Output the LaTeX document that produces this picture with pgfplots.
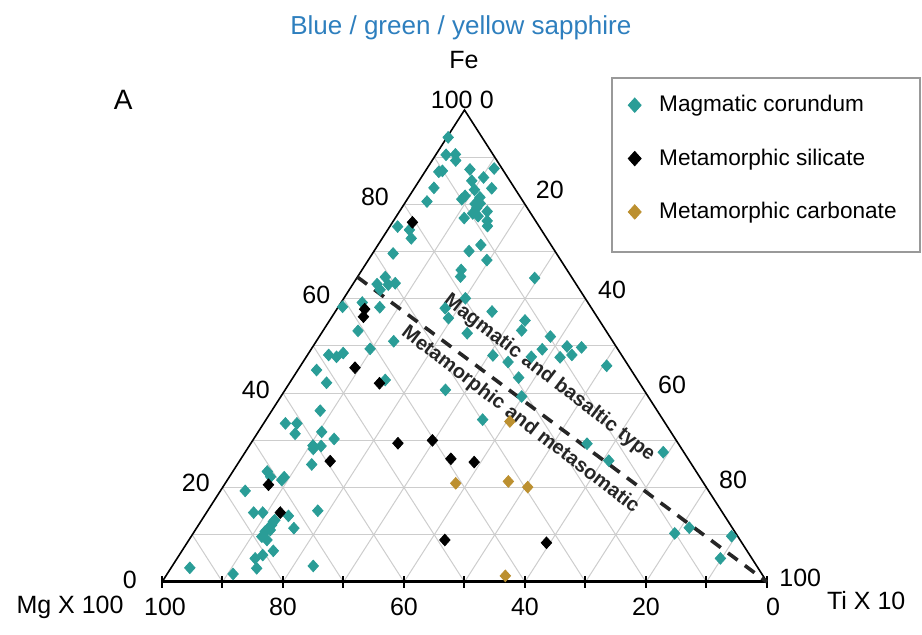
\documentclass[border=0pt]{standalone}
\usepackage{fontspec}
\setmainfont{Liberation Sans}
\usepackage{pgfplots}
\usepackage{pgfplotstable}
\pgfplotsset{compat=1.18}
\definecolor{teal1}{HTML}{2A9D97}
\definecolor{gold1}{HTML}{BC9030}
\definecolor{title1}{HTML}{2E7FBE}
\definecolor{grid1}{HTML}{CDCDCD}

\pgfplotstableread{
Fe Ti
94.2 0.2
90.5 1.7
90.6 3.2
89.3 3.9
86.9 2.3
87.1 2.8
87.4 7.2
87.6 11.1
83.5 3.2
85.0 8.7
85.7 10.3
83.4 12.8
83.1 10.1
80.6 3.5
81.1 9.0
81.8 9.2
81.5 11.8
80.1 11.7
80.2 12.5
79.2 12.4
78.5 14.5
78.1 12.3
77.1 11.4
76.5 15.5
75.4 16.1
77.5 13.5
75.3 1.3
74.6 3.6
72.8 4.8
69.6 3.4
70.1 15.7
71.4 17.0
68.2 19.6
66.1 16.4
64.7 17.0
64.4 29.4
64.6 4.6
63.1 4.0
63.0 5.9
63.3 6.9
61.9 5.1
58.2 6.9
59.2 3.5
58.3 0.7
60.1 20.1
58.0 17.8
57.3 25.9
55.9 19.4
52.7 24.1
55.4 32.3
53.3 32.8
53.2 5.8
51.0 12.8
49.4 9.7
48.5 5.7
47.7 5.0
48.1 3.5
52.0 38.2
49.3 38.2
49.9 42.0
48.1 43.7
49.7 44.5
47.6 42.0
45.8 50.6
48.0 30.7
46.6 33.9
43.3 37.3
39.3 39.8
47.7 37.2
40.7 26.5
34.4 35.8
42.8 15.5
44.9 3.1
42.2 6.1
36.3 8.0
33.6 3.6
33.6 5.5
31.4 6.3
31.8 10.5
30.3 13.3
28.9 10.5
28.8 11.9
28.2 10.9
24.9 12.3
23.4 5.7
22.3 6.8
21.6 9.0
22.2 9.1
19.3 4.1
14.7 7.8
14.7 9.3
14.0 13.9
15.1 18.2
13.1 12.1
12.1 12.1
11.4 11.9
10.7 11.7
9.6 11.7
8.9 12.9
12.8 12.0
11.0 12.4
11.4 16.1
6.6 15.1
5.7 13.8
5.0 12.9
2.9 14.2
3.4 23.3
3.0 3.1
1.7 10.9
29.3 55.6
25.7 61.0
27.5 69.1
10.3 79.6
11.5 81.4
9.7 89.3
5.0 89.8
}\magm

\pgfplotstableread{
Fe Ti
76.2 3.3
57.8 4.6
56.2 5.2
45.4 9.2
42.1 14.9
29.4 24.3
30.0 29.7
26.1 34.7
25.4 38.9
25.6 15.0
20.6 7.3
14.7 12.2
8.9 42.3
8.3 59.4
}\msil

\pgfplotstableread{
Fe Ti
34.0 40.5
20.9 38.1
21.3 46.6
20.1 50.4
1.3 56.1
}\mcarb

\begin{document}
\begin{tikzpicture}
\path[use as bounding box] (-81pt,-26.5pt) rectangle (380pt,291pt);
\begin{axis}[
  hide axis, scale only axis, clip=false,
  width=302.5pt, height=236pt,
  xmin=0, xmax=100, ymin=0, ymax=100,
  at={(0,0)}, anchor=south west,
  legend cell align=left,
  legend image code/.code={\draw[#1, mark size=3.6pt] plot coordinates {(0cm,0cm)};},
  legend style={at={(axis cs:77.0,104.0)}, anchor=north west,
    draw=none, fill=none,
    font=\fontsize{11.3}{13}\selectfont,
    row sep=13pt, inner xsep=0pt, inner ysep=0pt,
    /tikz/every odd column/.append style={column sep=7pt}},
]
% grid
\pgfplotsinvokeforeach{10,20,30,40,50,60,70,80,90}{
  \draw[grid1, line width=0.5pt] (axis cs:#1/2,#1) -- (axis cs:100-#1/2,#1);
  \draw[grid1, line width=0.5pt] (axis cs:#1,0) -- (axis cs:50+#1/2,100-#1);
  \draw[grid1, line width=0.5pt] (axis cs:100-#1,0) -- (axis cs:50-#1/2,100-#1);
}
\draw[black, line width=0.8pt] (axis cs:0,0) -- (axis cs:50,100) -- (axis cs:100,0);
\draw[black, line width=1.5pt] (axis cs:0,0) -- (axis cs:100,0);
\pgfplotsinvokeforeach{0,10,20,30,40,50,60,70,80,90,100}{
  \draw[black, line width=1pt] (axis cs:#1,0) ++(0,-2.8pt) -- ++(0,5.6pt);
}
% legend frame
\draw[gray!80, line width=1pt] (axis cs:74.38,106.78) rectangle (axis cs:125.3,69.9);

\addplot[forget plot, black!85, line width=1.8pt, dash pattern=on 6pt off 4.5pt]
  coordinates {(32.3,64.6) (100,0)};

\addplot[only marks, mark=diamond*, mark size=2.9pt, color=teal1,
  mark options={xscale=1.2}]
  table[x expr=\thisrow{Ti}+0.5*\thisrow{Fe}, y=Fe] {\magm};
\addlegendentry{Magmatic corundum}
\addplot[only marks, mark=diamond*, mark size=2.9pt, color=black,
  mark options={xscale=1.2}]
  table[x expr=\thisrow{Ti}+0.5*\thisrow{Fe}, y=Fe] {\msil};
\addlegendentry{Metamorphic silicate}
\addplot[only marks, mark=diamond*, mark size=2.9pt, color=gold1,
  mark options={xscale=1.2}]
  table[x expr=\thisrow{Ti}+0.5*\thisrow{Fe}, y=Fe] {\mcarb};
\addlegendentry{Metamorphic carbonate}

% texts
\tikzset{tl/.style={font=\fontsize{12.5}{15}\selectfont, inner sep=0pt}}
\node[tl] at (axis cs:0.5,-5.3) {100};
\node[tl] at (axis cs:20,-5.3) {80};
\node[tl] at (axis cs:40,-5.3) {60};
\node[tl] at (axis cs:60,-5.3) {40};
\node[tl] at (axis cs:80,-5.3) {20};
\node[tl] at (axis cs:101,-5.3) {0};
\node[tl] at (axis cs:-5.3,0.4) {0};
\node[tl] at (axis cs:5.6,21.0) {20};
\node[tl] at (axis cs:15.5,40.7) {40};
\node[tl] at (axis cs:25.5,60.8) {60};
\node[tl] at (axis cs:35.2,81.6) {80};
\node[tl] at (axis cs:47.9,102.1) {100};
\node[tl] at (axis cs:53.7,102.1) {0};
\node[tl] at (axis cs:64.1,83.1) {20};
\node[tl] at (axis cs:74.4,61.9) {40};
\node[tl] at (axis cs:84.3,41.7) {60};
\node[tl] at (axis cs:94.4,21.6) {80};
\node[tl] at (axis cs:105.5,0.8) {100};
\node[tl] at (axis cs:49.9,110.6) {Fe};
\node[tl] at (axis cs:-15.2,-5.3) {Mg X 100};
\node[tl] at (axis cs:116.4,-4.0) {Ti X 10};
\node[font=\fontsize{14}{16}\selectfont, inner sep=0pt] at (axis cs:-6.4,102.1) {A};
\node[title1, font=\fontsize{13}{15}\selectfont, inner sep=0pt] at (axis cs:49.4,117.4) {Blue / green / yellow sapphire};
\node[rotate=-37.5, font=\bfseries\fontsize{10}{12}\selectfont, text=black!85, inner sep=0pt] at (axis cs:64.0,43.2) {Magmatic and basaltic type};
\node[rotate=-37.5, font=\bfseries\fontsize{10}{12}\selectfont, text=black!85, inner sep=0pt] at (axis cs:59.2,34.3) {Metamorphic and metasomatic};
\end{axis}
\end{tikzpicture}
\end{document}
